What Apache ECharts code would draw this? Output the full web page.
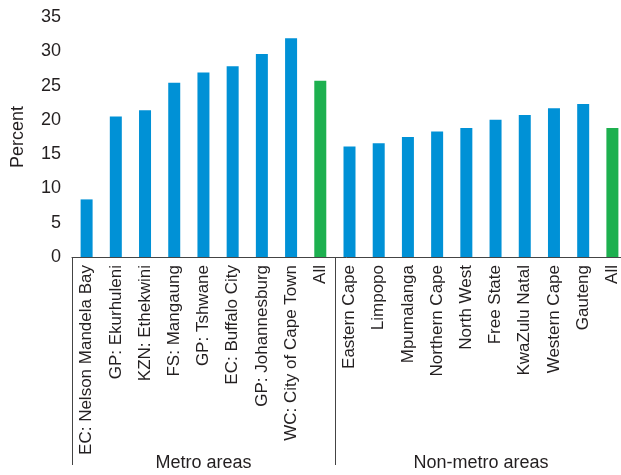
<!DOCTYPE html>
<html>
<head>
<meta charset="utf-8">
<script src="https://cdn.jsdelivr.net/npm/echarts@6/dist/echarts.min.js"></script>
<style>
	html, body { margin: 0; padding: 0; background: #fff; }
	#chart { width: 621px; height: 475px; }
</style>
</head>
<body>
<div id="chart"></div>
<script>
	// categories: metro areas first, then non-metro provinces
	const categories = [
		'EC: Nelson Mandela Bay', 'GP: Ekurhuleni', 'KZN: Ethekwini', 'FS: Mangaung',
		'GP: Tshwane', 'EC: Buffalo City', 'GP: Johannesburg', 'WC: City of Cape Town', 'All',
		'Eastern Cape', 'Limpopo', 'Mpumalanga', 'Northern Cape', 'North West',
		'Free State', 'KwaZulu Natal', 'Western Cape', 'Gauteng', 'All'
	]
	const percent = [
		8.4, 20.5, 21.4, 25.4, 26.9, 27.8, 29.6, 31.9, 25.7,
		16.1, 16.6, 17.5, 18.3, 18.8, 20.0, 20.7, 21.7, 22.3, 18.8
	]
	const yTicks = [0, 5, 10, 15, 20, 25, 30, 35]
	const groupNames = ['Metro areas', 'Non-metro areas']
	const groupBounds = [0, 9]        // first category index of each group
	const groupCentres = [4.5, 14]    // middle of each group span

	const blue = '#0091d6'
	const green = '#1db04f'
	const textColor = '#231f20'
	const font = 'Liberation Sans, Arial, sans-serif'

	const chart = echarts.init(document.getElementById('chart'))

	chart.setOption({
		animation: false,
		grid: {
			top: 17,
			bottom: 218,
			left: 72,
			right: -6,
			containLabel: false,
			outerBoundsMode: 'none'
		},
		xAxis: [{
			type: 'category',
			data: categories,
			axisLine: { lineStyle: { color: '#444', width: 1 } },
			axisTick: { show: false },
			axisLabel: {
				interval: 0,
				rotate: 90,
				margin: 8,
				color: textColor,
				fontSize: 17,
				fontFamily: font
			}
		}, {
			// group separators and group names
			type: 'value',
			min: 0,
			max: categories.length,
			position: 'bottom',
			axisLine: { show: false },
			splitLine: { show: false },
			axisTick: {
				show: true,
				customValues: groupBounds,
				length: 208,
				lineStyle: { color: '#444', width: 1 }
			},
			axisLabel: {
				customValues: groupCentres,
				formatter: v => groupNames[groupCentres.indexOf(v)] || '',
				margin: 197,
				color: textColor,
				fontSize: 18,
				fontFamily: font
			}
		}],
		yAxis: {
			type: 'value',
			min: 0,
			max: 35,
			interval: 5,
			name: 'Percent',
			nameLocation: 'middle',
			nameGap: 45,
			nameTextStyle: { color: textColor, fontSize: 18, fontFamily: font },
			axisLine: { show: false },
			axisTick: { show: false },
			splitLine: { show: false },
			axisLabel: {
				margin: 11,
				color: textColor,
				fontSize: 18,
				fontFamily: font,
				formatter: v => yTicks.includes(v) ? String(v) : ''
			}
		},
		series: [{
			type: 'bar',
			data: percent,
			barWidth: 12,
			itemStyle: {
				color: p => p.name === 'All' ? green : blue
			}
		}]
	})
</script>
</body>
</html>
